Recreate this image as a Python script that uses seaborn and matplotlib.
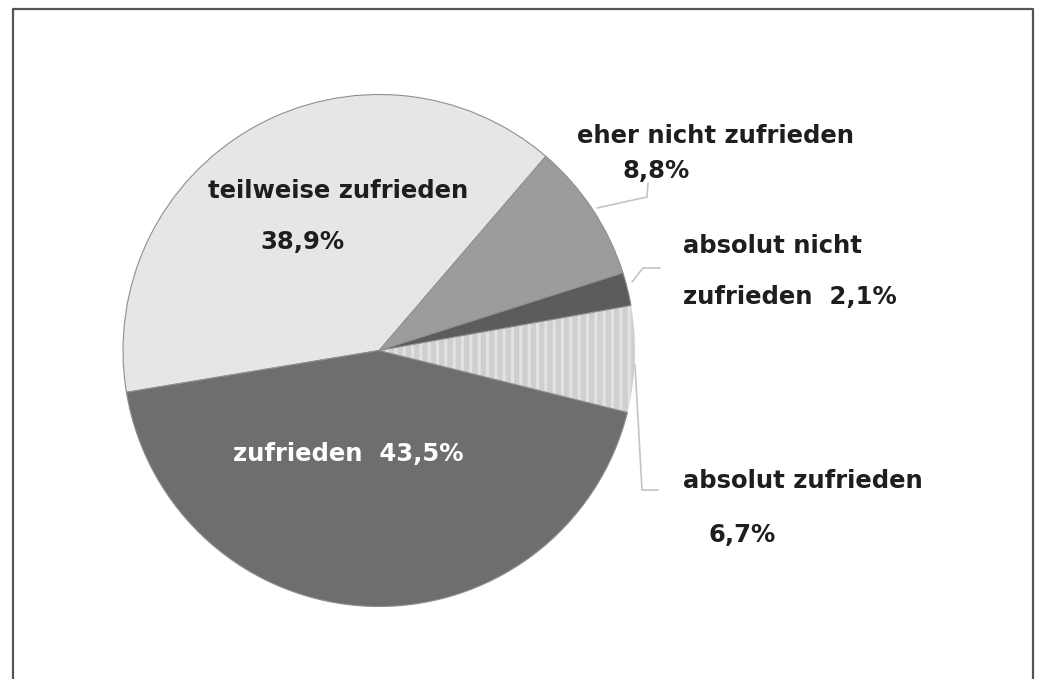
import matplotlib
matplotlib.use("Agg")
import matplotlib.pyplot as plt
import seaborn as sns

# Zufriedenheit - values
labels = ["absolut zufrieden", "absolut nicht zufrieden", "eher nicht zufrieden",
          "teilweise zufrieden", "zufrieden"]
values = [6.7, 2.1, 8.8, 38.9, 43.5]
colors = ["#cfcfcf", "#5c5c5c", "#9c9c9c", "#e6e6e6", "#6e6e6e"]

W, H = 1037, 679

sns.set_theme(style="white")
plt.rcParams["font.family"] = ["DejaVu Sans"]
plt.rcParams["hatch.linewidth"] = 2.2


def py(y):
    # pixel row (from top) -> data y
    return H - y


fig = plt.figure(figsize=(W / 100, H / 100), dpi=100)
ax = fig.add_axes([0, 0, 1, 1])

wedges, _ = ax.pie(values, colors=colors, startangle=-14, counterclock=True,
                   center=(379, py(350.5)), radius=256,
                   wedgeprops=dict(edgecolor="#8f8f8f", linewidth=0.8))

# vertical stripes on "absolut zufrieden"
wedges[0].set_hatch("||")
wedges[0].set_edgecolor("#e2e2e2")
wedges[0].set_linewidth(0)

ax.set_xlim(0, W)
ax.set_ylim(0, H)
ax.set_aspect("equal")
ax.axis("off")

# leader lines
line_kw = dict(color="#c4c4c4", lw=1.2, solid_joinstyle="miter")
ax.plot([597, 647, 648], [py(208), py(197), py(183)], **line_kw)
ax.plot([632, 643, 660], [py(282), py(268), py(268)], **line_kw)
ax.plot([635, 642, 658], [py(365), py(490), py(490)], **line_kw)

txt = dict(fontsize=17.5, fontweight="bold", color="#1e1e1e", ha="left", va="baseline")
ax.text(208, py(198), "teilweise zufrieden", **txt)
ax.text(260, py(249), "38,9%", **txt)
ax.text(577, py(143), "eher nicht zufrieden", **txt)
ax.text(623, py(178), "8,8%", **txt)
ax.text(683, py(253), "absolut nicht", **txt)
ax.text(683, py(304), "zufrieden  2,1%", **txt)
ax.text(683, py(488), "absolut zufrieden", **txt)
ax.text(708, py(542), "6,7%", **txt)
ax.text(233, py(461), "zufrieden  43,5%", **{**txt, "color": "white"})

# outer frame (open at the bottom)
frame_kw = dict(color="#555555", lw=1.6)
ax.plot([13, 13, 1033, 1033], [0, py(9), py(9), 0], **frame_kw)

fig.savefig("out.png", dpi=100, facecolor="white")
